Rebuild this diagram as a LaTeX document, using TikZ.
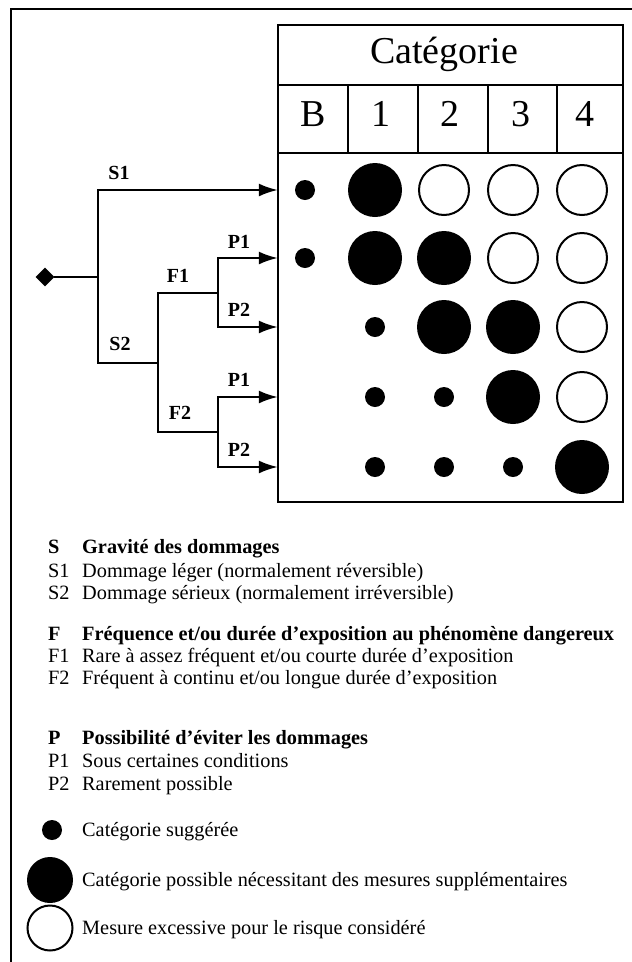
\documentclass[tikz,border=0pt]{standalone}
\usepackage{fontspec}
\setmainfont{Liberation Serif}
\usetikzlibrary{positioning,arrows.meta,shapes.geometric}
\tikzset{
  flowarrow/.style={-{Latex[length=19pt,width=13pt]}, line width=2.2pt},
  treeline/.style={line width=2.2pt, line cap=rect, line join=miter},
  tabline/.style={line width=1.8pt},
  catlbl/.style={anchor=base, inner sep=0pt, font=\fontsize{38}{40}\selectfont},
  branchlbl/.style={inner sep=0pt, font=\fontsize{20}{22}\selectfont\bfseries},
  keytext/.style={anchor=base west, inner sep=0pt, font=\fontsize{20.3}{22}\selectfont},
  keyhead/.style={keytext, font=\fontsize{20.3}{22}\selectfont\bfseries},
  bigdot/.style={circle, fill=black, minimum size=54pt, inner sep=0pt},
  smalldot/.style={circle, fill=black, minimum size=20pt, inner sep=0pt},
  opendot/.style={circle, draw, line width=2pt, minimum size=50pt, inner sep=0pt}
}

\begin{document}
\begin{tikzpicture}[x=1pt, y=-1pt, >=Latex]
  \useasboundingbox (0,0) rectangle (632,962);
  \draw[tabline] (11,975) -- (11,9) -- (640,9);

  % table of categories
  \draw[tabline] (278,25) rectangle (623,502);
  \draw[tabline] (278,85) -- (623,85);
  \draw[tabline] (278,153) -- (623,153);
  \draw[tabline] (348,85) -- (348,153);
  \draw[tabline] (418,85) -- (418,153);
  \draw[tabline] (488,85) -- (488,153);
  \draw[tabline] (557,85) -- (557,153);
  \node (grid) at (450.5,327.5) [minimum width=345pt, minimum height=349pt, inner sep=0pt] {};
  \node[catlbl] (cat) at (444,63) {Catégorie};
  \node[catlbl] (hB) at (313,126) {B};
  \node[catlbl] (h1) at (381,126) {1};
  \node[catlbl] (h2) at (450,126) {2};
  \node[catlbl] (h3) at (521,126) {3};
  \node[catlbl] (h4) at (585,126) {4};

  % decision tree
  \node[diamond, fill=black, minimum size=19pt, inner sep=0pt] (root) at (45,277) {};
  \coordinate (sJ) at (98,277);
  \coordinate (s1) at (98,190);
  \coordinate (s2) at (98,363);
  \coordinate (fJ) at (158,363);
  \coordinate (f1) at (158,293);
  \coordinate (f2) at (158,432);
  \coordinate (pJa) at (218,293);
  \coordinate (pJb) at (218,432);
  \coordinate (p1a) at (218,258);
  \coordinate (p2a) at (218,327);
  \coordinate (p1b) at (218,397);
  \coordinate (p2b) at (218,467);
  \draw[treeline] (root) -- (sJ);
  \draw[treeline] (s1) -- (s2) -- (fJ);
  \draw[treeline] (pJa) -- (f1) -- (f2) -- (pJb);
  \draw[treeline] (p1a) -- (p2a);
  \draw[treeline] (p1b) -- (p2b);
  \draw[flowarrow] (s1) -- (s1 -| grid.west);
  \draw[flowarrow] (p1a) -- (p1a -| grid.west);
  \draw[flowarrow] (p2a) -- (p2a -| grid.west);
  \draw[flowarrow] (p1b) -- (p1b -| grid.west);
  \draw[flowarrow] (p2b) -- (p2b -| grid.west);
  \node[branchlbl] (lS1) at (119,173) {S1};
  \node[branchlbl] (lS2) at (120,344) {S2};
  \node[branchlbl] (lF1) at (178,276) {F1};
  \node[branchlbl] (lF2) at (180,413) {F2};
  \node[branchlbl] (lP1a) at (239,242) {P1};
  \node[branchlbl] (lP2a) at (239,310) {P2};
  \node[branchlbl] (lP1b) at (239,380) {P1};
  \node[branchlbl] (lP2b) at (239,450) {P2};

  % ratings per row
  \node[smalldot] (d1b) at (305,190) {};
  \node[bigdot] (d11) at (375,190) {};
  \node[opendot] (d12) at (444,190) {};
  \node[opendot] (d13) at (513,190) {};
  \node[opendot] (d14) at (582,190) {};
  \node[smalldot] (d2b) at (305,258) {};
  \node[bigdot] (d21) at (375,258) {};
  \node[bigdot] (d22) at (444,258) {};
  \node[opendot] (d23) at (513,258) {};
  \node[opendot] (d24) at (582,258) {};
  \node[smalldot] (d31) at (375,327) {};
  \node[bigdot] (d32) at (444,327) {};
  \node[bigdot] (d33) at (513,327) {};
  \node[opendot] (d34) at (582,327) {};
  \node[smalldot] (d41) at (375,397) {};
  \node[smalldot] (d42) at (444,397) {};
  \node[bigdot] (d43) at (513,397) {};
  \node[opendot] (d44) at (582,397) {};
  \node[smalldot] (d51) at (375,467) {};
  \node[smalldot] (d52) at (444,467) {};
  \node[smalldot] (d53) at (513,467) {};
  \node[bigdot] (d54) at (582,467) {};

  % key
  \node[keyhead] (kS) at (48,553) {S};
  \node[keyhead] (kSt) at (82,553) {Gravité des dommages};
  \node[keytext] (kS1) at (48,577) {S1};
  \node[keytext] (kS1t) at (82,577) {Dommage léger (normalement réversible)};
  \node[keytext] (kS2) at (48,599) {S2};
  \node[keytext] (kS2t) at (82,599) {Dommage sérieux (normalement irréversible)};
  \node[keyhead] (kF) at (48,640) {F};
  \node[keyhead] (kFt) at (82,640) {Fréquence et/ou durée d’exposition au phénomène dangereux};
  \node[keytext] (kF1) at (48,662) {F1};
  \node[keytext] (kF1t) at (82,662) {Rare à assez fréquent et/ou courte durée d’exposition};
  \node[keytext] (kF2) at (48,684) {F2};
  \node[keytext] (kF2t) at (82,684) {Fréquent à continu et/ou longue durée d’exposition};
  \node[keyhead] (kP) at (48,744) {P};
  \node[keyhead] (kPt) at (82,744) {Possibilité d’éviter les dommages};
  \node[keytext] (kP1) at (48,767) {P1};
  \node[keytext] (kP1t) at (82,767) {Sous certaines conditions};
  \node[keytext] (kP2) at (48,790) {P2};
  \node[keytext] (kP2t) at (82,790) {Rarement possible};
  \node[smalldot] (ksmall) at (52,830) {};
  \node[keytext] (ksmallt) at (82,836) {Catégorie suggérée};
  \node[bigdot, minimum size=46pt] (kbig) at (50,880) {};
  \node[keytext] (kbigt) at (82,886) {Catégorie possible nécessitant des mesures supplémentaires};
  \node[opendot, minimum size=45pt] (kopen) at (50,928) {};
  \node[keytext] (kopent) at (82,934) {Mesure excessive pour le risque considéré};
\end{tikzpicture}
\end{document}
